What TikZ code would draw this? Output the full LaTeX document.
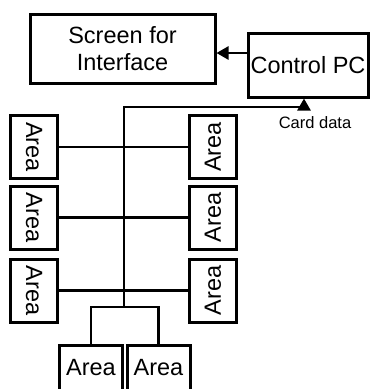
\documentclass[tikz,border=0pt]{standalone}
\usepackage{fontspec}
\setmainfont{Liberation Sans}
\usetikzlibrary{arrows.meta,positioning}

\begin{document}
\begin{tikzpicture}[x=1pt,y=-1pt,
  box/.style={draw,line width=3pt,fill=white,inner sep=0pt,align=center,
    font=\fontsize{23.5}{27}\selectfont},
  area/.style={box,minimum width=47pt,minimum height=63pt},
  areab/.style={box,minimum width=63pt,minimum height=46pt},
  bus/.style={line width=2.6pt},
  sig/.style={bus,-{Triangle[length=12pt,width=13pt]}},
  lab/.style={font=\fontsize{16.5}{19}\selectfont}
]
  \useasboundingbox (0,0) rectangle (374,389);
  \clip (0,0) rectangle (374,389);
  % top row
  \node[box,minimum width=185pt,minimum height=69pt] (scr) at (122.5,48.5) {Screen for\\Interface};
  \node[box,minimum width=120pt,minimum height=64pt] (pc) at (308,65) {Control PC};
  \draw[sig] ([yshift=12pt]pc.west) coordinate (p) -- (p -| scr.east);
  % areas left and right of the bus
  \node[area] (l1) at (34,147) {\rotatebox{-90}{Area}};
  \node[area] (l2) at (34,217.5) {\rotatebox{-90}{Area}};
  \node[area] (l3) at (34,290.5) {\rotatebox{-90}{Area}};
  \node[area] (r1) at (213,147) {\rotatebox{90}{Area}};
  \node[area] (r2) at (213,217.5) {\rotatebox{90}{Area}};
  \node[area] (r3) at (213,290.5) {\rotatebox{90}{Area}};
  \node[areab] (b1) at (91,368) {Area};
  \node[areab] (b2) at (158.5,368) {Area};
  % bus
  \coordinate (bt) at (124,107);
  \coordinate (bb) at (124,307);
  \draw[bus] (l1.east) -- (r1.west);
  \draw[bus] (l2.east) -- (r2.west);
  \draw[bus] (l3.east) -- (r3.west);
  \draw[bus] (b1.north) |- (bb) -| (b2.north);
  \draw[sig] (bb) -- (bt) -| ([xshift=-4pt]pc.south);
  \node[lab] (card) at (315,123) {Card data};
\end{tikzpicture}
\end{document}
